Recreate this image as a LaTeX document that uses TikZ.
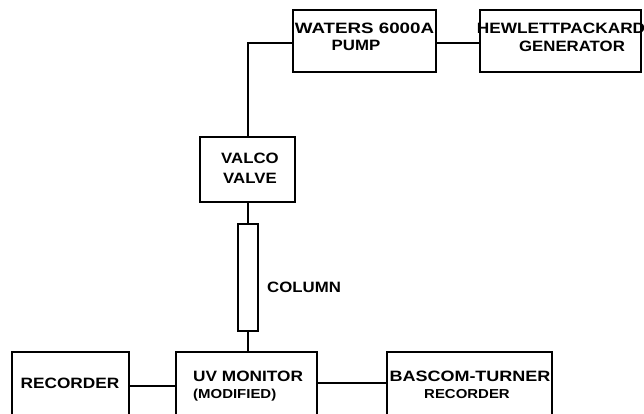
\documentclass[tikz,border=0pt]{standalone}
\usepackage{fontspec}
\usepackage{graphicx}
\setmainfont{Liberation Sans}
\newcommand\sx[2][1.12]{\scalebox{#1}[1]{#2}}
\begin{document}
\begin{tikzpicture}[x=1pt,y=-1pt,
  box/.style={draw=black, line width=1.6pt, rectangle, inner sep=0pt},
  wire/.style={draw=black, line width=1.5pt},
  lbl/.style={inner sep=0pt, anchor=base, font=\fontsize{15}{15}\selectfont\bfseries}]
\useasboundingbox (0,0) rectangle (644,414);
\clip (0,0) rectangle (644,414);
\fill[white] (0,0) rectangle (644,414);
% boxes
\node[box, minimum width=143pt, minimum height=62pt] (waters) at (364.5,41) {};
\node[box, minimum width=161pt, minimum height=62pt] (hewlett) at (560.5,41) {};
\node[box, minimum width=95pt, minimum height=65pt] (valco) at (247.5,169.5) {};
\node[box, minimum width=20pt, minimum height=107pt] (column) at (248,277.5) {};
\node[box, minimum width=117pt, minimum height=90pt] (recorder) at (70.5,397) {};
\node[box, minimum width=141pt, minimum height=90pt] (uv) at (246.5,397) {};
\node[box, minimum width=165pt, minimum height=90pt] (bascom) at (469.5,397) {};
% connectors
\draw[wire] (waters.east |- 0,43) -- (hewlett.west |- 0,43);
\draw[wire] (waters.west |- 0,43) -| (valco.north -| 248,0);
\draw[wire] (valco.south -| 248,0) -- (column.north);
\draw[wire] (column.south) -- (column.south |- uv.north);
\draw[wire] (recorder.east |- 0,386) -- (uv.west |- 0,386);
\draw[wire] (uv.east |- 0,383) -- (bascom.west |- 0,383);
% labels
\node[lbl] (t1) at (364.5,34) {\sx[1.25]{WATERS 6000A}};
\node[lbl] (t2) at (356,51) {\sx{PUMP}};
\node[lbl] (t3) at (561,34) {\sx[1.15]{HEWLETTPACKARD}};
\node[lbl] (t4) at (572,52) {\sx{GENERATOR}};
\node[lbl] (t5) at (250,164) {\sx{VALCO}};
\node[lbl] (t6) at (250,183) {\sx{VALVE}};
\node[lbl, anchor=base west] (t7) at (267,292) {\sx{COLUMN}};
\node[lbl] (t8) at (70,388) {\sx[1.15]{RECORDER}};
\node[lbl, anchor=base west] (t9) at (193,381) {\sx[1.15]{UV MONITOR}};
\node[lbl, anchor=base west, font=\fontsize{13}{13}\selectfont\bfseries] (t10) at (193,398) {\sx[1.15]{(MODIFIED)}};
\node[lbl] (t11) at (470,381) {\sx[1.2]{BASCOM-TURNER}};
\node[lbl, font=\fontsize{13}{13}\selectfont\bfseries] (t12) at (467,398) {\sx[1.15]{RECORDER}};
\end{tikzpicture}
\end{document}
